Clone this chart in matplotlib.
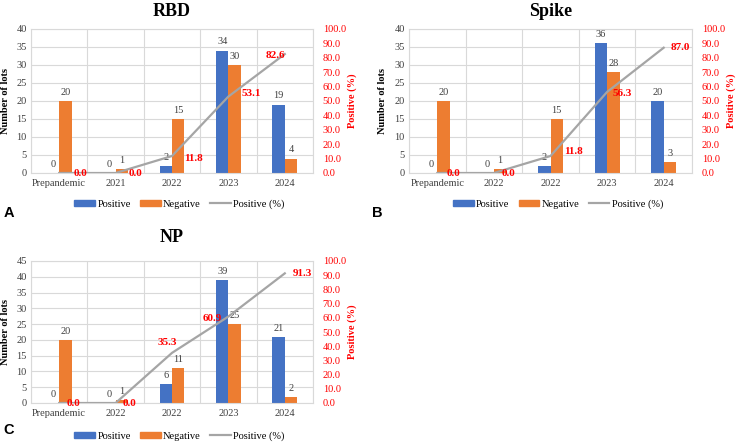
import matplotlib
matplotlib.use('Agg')
import matplotlib.pyplot as plt
from matplotlib.patches import Patch
from matplotlib.lines import Line2D
import numpy as np

# Data
cats_rbd = ['Prepandemic', '2021', '2022', '2023', '2024']
cats_spike = ['Prepandemic', '2022', '2022', '2023', '2024']
cats_np = ['Prepandemic', '2022', '2022', '2023', '2024']

pos_rbd = [0, 0, 2, 34, 19]
neg_rbd = [20, 1, 15, 30, 4]
pct_rbd = [0.0, 0.0, 11.8, 53.1, 82.6]

pos_spike = [0, 0, 2, 36, 20]
neg_spike = [20, 1, 15, 28, 3]
pct_spike = [0.0, 0.0, 11.8, 56.3, 87.0]

pos_np = [0, 0, 6, 39, 21]
neg_np = [20, 1, 11, 25, 2]
pct_np = [0.0, 0.0, 35.3, 60.9, 91.3]

BLUE = '#4472C4'
ORANGE = '#ED7D31'
GRAY = '#A5A5A5'
RED = '#FF0000'
GRID = '#D9D9D9'
TXT = '#404040'
SERIF = 'Liberation Serif'

W, H = 738, 442
fig = plt.figure(figsize=(W / 100, H / 100), dpi=100)


def px_rect(left, top, right, bottom):
    return [left / W, 1 - bottom / H, (right - left) / W, (bottom - top) / H]


def panel(rect, title, cats, pos, neg, pct, ymax, letter, letter_xy, title_y,
          legend_y, offsets):
    ax = fig.add_axes(rect)
    x = np.arange(len(cats))
    w = 0.22
    ax.bar(x - w / 2, pos, w, color=BLUE, zorder=2)
    ax.bar(x + w / 2, neg, w, color=ORANGE, zorder=2)
    for xs, vals in ((x - w / 2, pos), (x + w / 2, neg)):
        for xi, v in zip(xs, vals):
            ax.annotate(str(v), (xi, v), xytext=(0, 3), textcoords='offset points',
                        ha='center', va='bottom', fontsize=7.5, family=SERIF, color=TXT)
    ax.set_xlim(-0.5, len(cats) - 0.5)
    ax.set_ylim(0, ymax)
    ax.set_yticks(np.arange(0, ymax + 1, 5))
    ax.set_xticks(x)
    ax.set_xticklabels(cats, family=SERIF, fontsize=7.5, color=TXT)
    ax.set_xticks(np.arange(-0.5, len(cats), 1), minor=True)
    ax.grid(True, axis='y', color=GRID, lw=0.8, zorder=0)
    ax.grid(True, axis='x', which='minor', color=GRID, lw=0.8, zorder=0)
    ax.tick_params(axis='both', which='both', length=0, pad=3)
    ax.tick_params(axis='x', pad=4)
    for lab in ax.get_yticklabels():
        lab.set_family(SERIF)
        lab.set_fontsize(7.5)
        lab.set_color(TXT)
    for s in ax.spines.values():
        s.set_color(GRID)
        s.set_linewidth(0.8)
    ax.set_ylabel('Number of lots', family=SERIF, fontsize=7.5, fontweight='bold',
                  va='center')
    ax.yaxis.set_label_coords(-0.092, 0.5)

    ax2 = ax.twinx()
    ax2.plot(x, pct, color=GRAY, lw=1.6, zorder=3)
    ax2.set_ylim(0, 100)
    ax2.set_yticks(np.arange(0, 101, 10))
    ax2.set_yticklabels(['%.1f' % t for t in np.arange(0, 101, 10)],
                        family=SERIF, fontsize=7.5, color=RED)
    ax2.tick_params(axis='y', length=0, pad=7)
    for s in ax2.spines.values():
        s.set_visible(False)
    ax2.set_ylabel('Positive (%)', family=SERIF, fontsize=7.5, fontweight='bold',
                   color=RED, rotation=90, va='center')
    ax2.yaxis.set_label_coords(1.138, 0.5)
    # offsets are in pixels, dy positive = downwards
    for xi, v, (dx, dy) in zip(x, pct, offsets):
        ax2.annotate('%.1f' % v, (xi, v), xytext=(dx * 0.72, -dy * 0.72),
                     textcoords='offset points', ha='center', va='center',
                     fontsize=8, family=SERIF, fontweight='bold', color=RED, zorder=5)

    fig.text(rect[0] + rect[2] / 2, title_y, title, ha='center', va='center',
             family=SERIF, fontsize=13, fontweight='bold')
    fig.text(letter_xy[0], letter_xy[1], letter, ha='left', va='center',
             family='Liberation Sans', fontsize=10.5, fontweight='bold')

    handles = [Patch(color=BLUE, label='Positive'),
               Patch(color=ORANGE, label='Negative'),
               Line2D([0], [0], color=GRAY, lw=1.6, label='Positive (%)')]
    fig.legend(handles=handles, loc='center',
               bbox_to_anchor=(rect[0] + rect[2] / 2 + 0.01, legend_y), ncol=3,
               frameon=False, prop={'family': SERIF, 'size': 7.5},
               handlelength=2.0, handleheight=0.5, handletextpad=0.2,
               columnspacing=0.9)
    return ax


panel(px_rect(31, 29, 313, 173), 'RBD', cats_rbd, pos_rbd, neg_rbd, pct_rbd, 40,
      'A', (4 / W, 1 - 213 / H), 1 - 12 / H, 1 - 204 / H,
      [(21, 0), (20, 0), (22, 2), (23, -3), (-9, 1)])
panel(px_rect(409, 29, 692, 173), 'Spike', cats_spike, pos_spike, neg_spike, pct_spike, 40,
      'B', (372 / W, 1 - 213 / H), 1 - 12 / H, 1 - 204 / H,
      [(16, 0), (15, 0), (23, -5), (15, 2), (17, 0)])
panel(px_rect(31, 261, 313, 403), 'NP', cats_np, pos_np, neg_np, pct_np, 45,
      'C', (3 / W, 1 - 430 / H), 1 - 238 / H, 1 - 436 / H,
      [(14, 0), (14, 0), (-5, -10), (-16, 2), (18, 0)])

fig.savefig('out.png', dpi=100)
